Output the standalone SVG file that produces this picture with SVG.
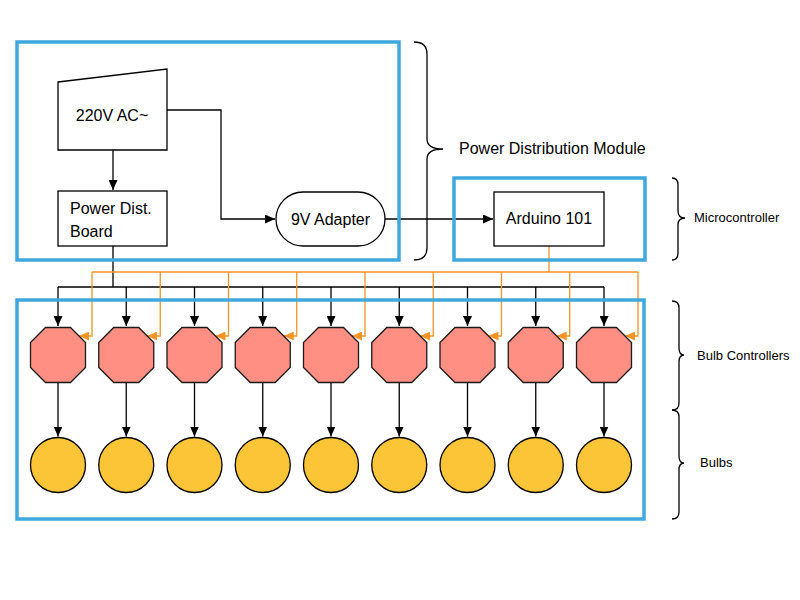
<svg xmlns="http://www.w3.org/2000/svg" width="800" height="600" viewBox="0 0 800 600">
<style>
.frame{fill:none;stroke:#3FA8DC;stroke-width:3.5}
.box{fill:#fff;stroke:#000;stroke-width:1.3}
.oct{fill:#FF8F82;stroke:#1a1a1a;stroke-width:1.3}
.bulb{fill:#FBC537;stroke:#000;stroke-width:1.3}
.blk{fill:none;stroke:#000;stroke-width:1.3}
.org{fill:none;stroke:#F39425;stroke-width:1.3}
.brace{fill:none;stroke:#000;stroke-width:1.3}
text{font-family:"Liberation Sans",Arial,sans-serif;fill:#000}
.t16{font-size:16px}
.t13{font-size:13px}
</style>
<defs>
<marker id="ab" markerUnits="userSpaceOnUse" markerWidth="11" markerHeight="9" refX="10" refY="4.5" orient="auto"><path d="M0,0 L10,4.5 L0,9 z" fill="#000"/></marker>
<marker id="ao" markerUnits="userSpaceOnUse" markerWidth="11" markerHeight="9" refX="10" refY="4.5" orient="auto"><path d="M0,0 L10,4.5 L0,9 z" fill="#F39425"/></marker>
<polygon id="octShape" points="-12.5,-27.5 12.5,-27.5 27.5,-12.5 27.5,12.5 12.5,27.5 -12.5,27.5 -27.5,12.5 -27.5,-12.5"/>
</defs>
<rect width="800" height="600" fill="#fff"/>

<g id="connectors">
<path class="blk" d="M113,150 V190" marker-end="url(#ab)"/>
<path class="blk" d="M167,110 H221 V219 H275" marker-end="url(#ab)"/>
<path class="blk" d="M385,219 H493" marker-end="url(#ab)"/>
<path class="blk" d="M113,246 V287 M58,287 H604"/>
<path class="org" d="M549,246 V272 M92,272 H638"/>
<path class="blk" d="M58,287 V326" marker-end="url(#ab)"/>
<path class="blk" d="M126.25,287 V326" marker-end="url(#ab)"/>
<path class="blk" d="M194.5,287 V326" marker-end="url(#ab)"/>
<path class="blk" d="M262.75,287 V326" marker-end="url(#ab)"/>
<path class="blk" d="M331,287 V326" marker-end="url(#ab)"/>
<path class="blk" d="M399.25,287 V326" marker-end="url(#ab)"/>
<path class="blk" d="M467.5,287 V326" marker-end="url(#ab)"/>
<path class="blk" d="M535.75,287 V326" marker-end="url(#ab)"/>
<path class="blk" d="M604,287 V326" marker-end="url(#ab)"/>
<path class="org" d="M92,272 V336 H79" marker-end="url(#ao)"/>
<path class="org" d="M160.25,272 V336 H147.25" marker-end="url(#ao)"/>
<path class="org" d="M228.5,272 V336 H215.5" marker-end="url(#ao)"/>
<path class="org" d="M296.75,272 V336 H283.75" marker-end="url(#ao)"/>
<path class="org" d="M365,272 V336 H352" marker-end="url(#ao)"/>
<path class="org" d="M433.25,272 V336 H420.25" marker-end="url(#ao)"/>
<path class="org" d="M501.5,272 V336 H488.5" marker-end="url(#ao)"/>
<path class="org" d="M569.75,272 V336 H556.75" marker-end="url(#ao)"/>
<path class="org" d="M638,272 V336 H625" marker-end="url(#ao)"/>
<path class="blk" d="M58,382.5 V436.5" marker-end="url(#ab)"/>
<path class="blk" d="M126.25,382.5 V436.5" marker-end="url(#ab)"/>
<path class="blk" d="M194.5,382.5 V436.5" marker-end="url(#ab)"/>
<path class="blk" d="M262.75,382.5 V436.5" marker-end="url(#ab)"/>
<path class="blk" d="M331,382.5 V436.5" marker-end="url(#ab)"/>
<path class="blk" d="M399.25,382.5 V436.5" marker-end="url(#ab)"/>
<path class="blk" d="M467.5,382.5 V436.5" marker-end="url(#ab)"/>
<path class="blk" d="M535.75,382.5 V436.5" marker-end="url(#ab)"/>
<path class="blk" d="M604,382.5 V436.5" marker-end="url(#ab)"/>
</g>

<g id="ac-source">
<polygon class="box" points="58,82 167,69 167,150 58,150"/>
<text class="t16" x="112" y="121" text-anchor="middle">220V AC~</text>
</g>
<g id="power-board">
<rect class="box" x="58" y="191" width="109" height="55"/>
<text class="t16" x="70" y="214">Power Dist.</text>
<text class="t16" x="70" y="237">Board</text>
</g>
<g id="adapter">
<rect class="box" x="276" y="192" width="109" height="54" rx="27" ry="27"/>
<text class="t16" x="330.5" y="225" text-anchor="middle">9V Adapter</text>
</g>
<g id="arduino">
<rect class="box" x="494" y="192" width="110" height="54"/>
<text class="t16" x="549" y="224" text-anchor="middle">Arduino 101</text>
</g>

<g id="controllers">
<use href="#octShape" class="oct" x="58" y="355"/>
<use href="#octShape" class="oct" x="126.25" y="355"/>
<use href="#octShape" class="oct" x="194.5" y="355"/>
<use href="#octShape" class="oct" x="262.75" y="355"/>
<use href="#octShape" class="oct" x="331" y="355"/>
<use href="#octShape" class="oct" x="399.25" y="355"/>
<use href="#octShape" class="oct" x="467.5" y="355"/>
<use href="#octShape" class="oct" x="535.75" y="355"/>
<use href="#octShape" class="oct" x="604" y="355"/>
</g>
<g id="bulbs">
<circle class="bulb" cx="58" cy="465" r="27.5"/>
<circle class="bulb" cx="126.25" cy="465" r="27.5"/>
<circle class="bulb" cx="194.5" cy="465" r="27.5"/>
<circle class="bulb" cx="262.75" cy="465" r="27.5"/>
<circle class="bulb" cx="331" cy="465" r="27.5"/>
<circle class="bulb" cx="399.25" cy="465" r="27.5"/>
<circle class="bulb" cx="467.5" cy="465" r="27.5"/>
<circle class="bulb" cx="535.75" cy="465" r="27.5"/>
<circle class="bulb" cx="604" cy="465" r="27.5"/>
</g>

<g id="frames">
<rect class="frame" x="17" y="42" width="382" height="218"/>
<rect class="frame" x="454" y="178" width="191" height="82"/>
<rect class="frame" x="17" y="300" width="627" height="219"/>
</g>

<g id="labels">
<path class="brace" d="M414,42 Q427,42 427,54 L427,139 Q427,149 443,149 Q427,149 427,159 L427,248 Q427,260 414,260"/>
<text class="t16" x="459" y="154">Power Distribution Module</text>
<path class="brace" d="M672,178 Q678,178 678,185 L678,211 Q678,218 685,218 Q678,218 678,225 L678,253 Q678,260 672,260"/>
<text class="t13" x="694" y="222">Microcontroller</text>
<path class="brace" d="M672,301 Q679,301 679,308 L679,348 Q679,355 684,355 Q679,355 679,362 L679,403 Q679,410 672,410"/>
<text class="t13" x="697" y="360">Bulb Controllers</text>
<path class="brace" d="M672,410 Q679,410 679,417 L679,456 Q679,463 684,463 Q679,463 679,470 L679,512 Q679,519 672,519"/>
<text class="t13" x="700" y="467">Bulbs</text>
</g>
</svg>
